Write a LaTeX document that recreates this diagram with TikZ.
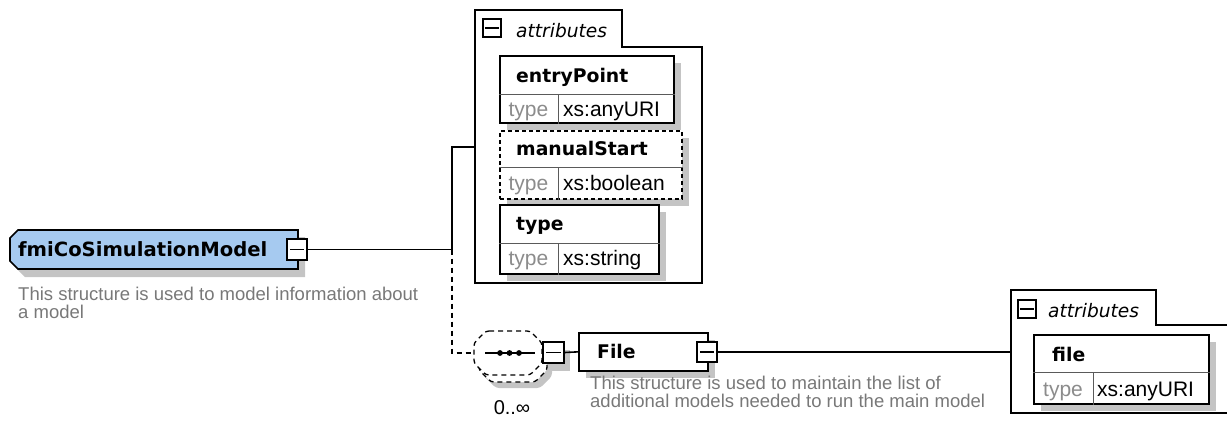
\documentclass[tikz,border=0pt]{standalone}
\usepackage{fontspec}
\newfontfamily\dejavu{DejaVu Sans}
\newfontfamily\libsans{Liberation Sans}
\definecolor{mainblue}{RGB}{166,202,240}
\definecolor{shadowgray}{RGB}{196,196,196}
\definecolor{commentgray}{RGB}{120,120,120}
\definecolor{typegray}{RGB}{140,140,140}
\definecolor{divgray}{RGB}{90,90,90}
\begin{document}
\begin{tikzpicture}[x=1pt,y=-1pt,
  border/.style={line width=1.7pt, draw=black},
  grpborder/.style={line width=1.5pt, draw=black},
  entrybox/.style={border, fill=white, anchor=north west, inner sep=0pt},
  divline/.style={line width=1pt, draw=divgray},
  minusbox/.style={draw=black, line width=1.5pt, fill=white, minimum width=20pt, minimum height=20pt, inner sep=0pt},
  tabminus/.style={draw=black, line width=1.3pt, fill=white, minimum width=18pt, minimum height=18pt, inner sep=0pt},
  namebold/.style={font=\dejavu\bfseries\fontsize{18.8}{20}\selectfont, anchor=base west, inner sep=0pt},
  mainname/.style={font=\dejavu\bfseries\fontsize{19.6}{22}\selectfont, anchor=base west, inner sep=0pt},
  tabtxt/.style={font=\dejavu\itshape\fontsize{18.6}{20}\selectfont, anchor=base west, inner sep=0pt},
  typelbl/.style={font=\libsans\fontsize{21}{24}\selectfont, text=typegray, anchor=base, inner sep=0pt},
  typeval/.style={font=\libsans\fontsize{21}{24}\selectfont, anchor=base west, inner sep=0pt},
  comment/.style={font=\libsans\fontsize{18.5}{20}\selectfont, text=commentgray, anchor=base west, inner sep=0pt},
  conn/.style={line width=1.6pt, draw=black},
  dconn/.style={line width=1.6pt, draw=black, dash pattern=on 5pt off 4pt}
]
\useasboundingbox (0,0) rectangle (1227,426);
\clip (0,0) rectangle (1227,426);

% ---------- main element ----------
\fill[shadowgray] (25,237) -- (305,237) -- (305,277) -- (25,277) -- (17,269) -- (17,245) -- cycle;
\draw[border, fill=mainblue] (18,230) -- (298,230) -- (298,269) -- (18,269) -- (10,261) -- (10,238) -- cycle;
\node[mainname] (main) at (18,256) {fmiCoSimulationModel};
\node[minusbox, minimum height=21pt] (mm) at (297,249.5) {};
\draw[line width=1.4pt] ([xshift=4pt]mm.west) -- ([xshift=-4pt]mm.east);
\node[comment] (c1a) at (18,300) {This structure is used to model information about};
\node[comment] (c1b) at (18,318) {a model};

% ---------- attributes group 1 ----------
\node[inner sep=0pt, minimum width=227pt, minimum height=236pt, anchor=north west] (attr1) at (475,47) {};
\draw[grpborder, fill=white] (475,283) -- (475,10) -- (622,10) -- (622,47) -- (702,47) -- (702,283) -- cycle;
\node[tabminus] (t1m) at (492,28) {};
\draw[line width=1.2pt] ([xshift=3pt]t1m.west) -- ([xshift=-3pt]t1m.east);
\node[tabtxt] (t1t) at (516,37) {attributes};

% entryPoint
\fill[shadowgray] (507,63) rectangle (681,130);
\node[entrybox, minimum width=174pt, minimum height=67pt] (ep) at (499,55) {};
\draw[divline] (ep.west |- 0,94) -- (ep.east |- 0,94);
\draw[divline] (558,94) -- (ep.south -| 558,0);
\node[namebold] (epn) at (516,82) {entryPoint};
\node[typelbl] (ept) at (528.5,116.5) {type};
\node[typeval] (epv) at (563,116.5) {xs:anyURI};

% manualStart (optional)
\fill[shadowgray] (507,138) rectangle (689,206);
\node[entrybox, dash pattern=on 4pt off 3pt, minimum width=182pt, minimum height=68pt] (ms) at (499,130) {};
\draw[divline] (ms.west |- 0,167) -- (ms.east |- 0,167);
\draw[divline] (558,167) -- (ms.south -| 558,0);
\node[namebold] (msn) at (516,155) {manualStart};
\node[typelbl] (mst) at (528.5,190) {type};
\node[typeval] (msv) at (563,190) {xs:boolean};

% type
\fill[shadowgray] (507,212) rectangle (666,281);
\node[entrybox, minimum width=159pt, minimum height=69pt] (ty) at (499,204) {};
\draw[divline] (ty.west |- 0,243) -- (ty.east |- 0,243);
\draw[divline] (558,243) -- (ty.south -| 558,0);
\node[namebold] (tyn) at (516,230) {type};
\node[typelbl] (tyt) at (528.5,265.5) {type};
\node[typeval] (tyv) at (563,265.5) {xs:string};

% ---------- sequence compositor ----------
\node[inner sep=0pt, minimum width=68pt, minimum height=44pt] (seq) at (508,353) {};
\fill[shadowgray, rounded corners=3pt] (496,344) -- (540,344) -- (552,356) -- (552,376) -- (540,388) -- (496,388) -- (484,376) -- (484,356) -- cycle;
\draw[dconn, line width=1.3pt, fill=white, rounded corners=3pt] (491,338) -- (535,338) -- (547,350) -- (547,370) -- (535,382) -- (491,382) -- (479,370) -- (479,350) -- cycle;
\draw[dconn, line width=1.3pt, fill=white, rounded corners=3pt] (486,331) -- (530,331) -- (542,343) -- (542,363) -- (530,375) -- (486,375) -- (474,363) -- (474,343) -- cycle;
\draw[line width=1.3pt] (485,353) -- (535,353);
\fill (500,353) circle (2.9pt);
\fill (509.5,353) circle (2.9pt);
\fill (519,353) circle (2.9pt);
\fill[shadowgray] (549,350) rectangle (570,371);
\node[minusbox, minimum width=21pt, minimum height=21pt] (sm) at (553.5,352.5) {};
\draw[line width=1.4pt] ([xshift=4pt]sm.west) -- ([xshift=-4pt]sm.east);
\node[font=\libsans\fontsize{20}{22}\selectfont, anchor=base, inner sep=0pt] (mult) at (512,414) {0..∞};

% ---------- File element ----------
\fill[shadowgray] (586,340) rectangle (715,378);
\node[entrybox, minimum width=129pt, minimum height=38pt] (file) at (578,332) {};
\node[namebold] (filen) at (597,358) {File};
\node[minusbox] (fm) at (707,352) {};
\draw[line width=1.4pt] ([xshift=4pt]fm.west) -- ([xshift=-4pt]fm.east);
\node[comment] (c2a) at (590,389) {This structure is used to maintain the list of};
\node[comment] (c2b) at (590,407) {additional models needed to run the main model};

% ---------- attributes group 2 ----------
\node[inner sep=0pt, minimum width=230pt, minimum height=88pt, anchor=north west] (attr2) at (1011,325) {};
\draw[grpborder, fill=white] (1240,413) -- (1011,413) -- (1011,290) -- (1156,290) -- (1156,325) -- (1240,325);
\node[tabminus] (t2m) at (1027,309) {};
\draw[line width=1.2pt] ([xshift=3pt]t2m.west) -- ([xshift=-3pt]t2m.east);
\node[tabtxt] (t2t) at (1048,317) {attributes};

\fill[shadowgray] (1041,342) rectangle (1216,411);
\node[entrybox, minimum width=175pt, minimum height=69pt] (fa) at (1033,334) {};
\draw[divline] (fa.west |- 0,372) -- (fa.east |- 0,372);
\draw[divline] (1093,372) -- (fa.south -| 1093,0);
\node[namebold] (fan) at (1052,361) {file};
\node[typelbl] (fat) at (1063,396) {type};
\node[typeval] (fav) at (1097,396) {xs:anyURI};

% ---------- connectors ----------
\coordinate (j1) at (452,249.5);
\draw[conn] (mm.east) -- (j1);
\draw[conn] (j1) |- (attr1.west |- 0,147);
\draw[dconn] (j1) |- (seq.west);
\draw[conn] (sm.east) -- (file.west);
\draw[conn] (fm.east) -- (fm.east -| attr2.west);
\end{tikzpicture}
\end{document}
